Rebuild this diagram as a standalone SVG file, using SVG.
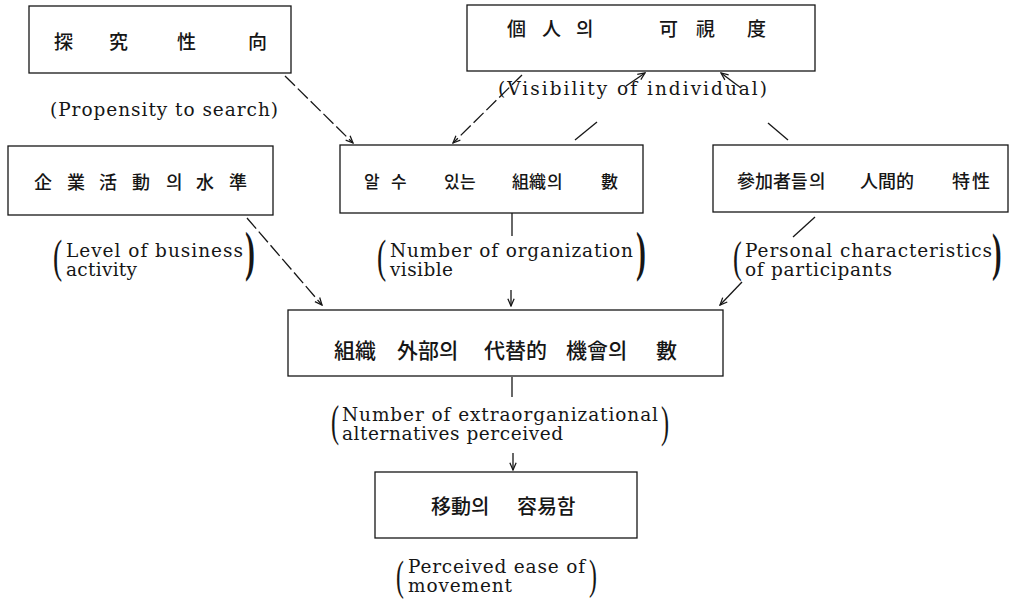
<svg xmlns="http://www.w3.org/2000/svg" width="1011" height="600" viewBox="0 0 1011 600">
<style>
.bg{fill:#ffffff}
.box{fill:none;stroke:#161616;stroke-width:1.3}
.kr{font-family:"Noto Sans CJK KR","Noto Sans CJK SC",sans-serif;font-weight:500;fill:#161616}
.en{font-family:"DejaVu Serif","Liberation Serif",serif;font-size:18.5px;fill:#161616}
.par{font-family:"Liberation Serif",serif;fill:#161616}
.ln{fill:none;stroke:#161616;stroke-width:1.3}
.dash{stroke-dasharray:14 4}
</style>
<defs>
<marker id="ah" viewBox="0 0 10 10" refX="9" refY="5" markerWidth="9" markerHeight="9" orient="auto" markerUnits="userSpaceOnUse">
<path d="M1,1.5 L9,5 L1,8.5" fill="none" stroke="#161616" stroke-width="1.4"/>
</marker>
</defs>
<rect class="bg" x="0" y="0" width="1011" height="600"/>

<g id="connectors">
<path class="ln dash" d="M285,76 L353,143" marker-end="url(#ah)"/>
<path class="ln dash" d="M522,75 L453,143" marker-end="url(#ah)"/>
<path class="ln" d="M575,140 L597,122"/>
<path class="ln" d="M626,86 L645,73" marker-end="url(#ah)"/>
<path class="ln" d="M788,140 L768,123"/>
<path class="ln" d="M741,88 L721,73" marker-end="url(#ah)"/>
<path class="ln dash" d="M247,218 L322,305" marker-end="url(#ah)"/>
<path class="ln" d="M512,213 L512,236"/>
<path class="ln" d="M511,290 L511,306" marker-end="url(#ah)"/>
<path class="ln" d="M815,217 L793,237"/>
<path class="ln" d="M742,282 L720,305" marker-end="url(#ah)"/>
<path class="ln" d="M512,377 L512,397"/>
<path class="ln" d="M513,453 L513,470" marker-end="url(#ah)"/>
</g>

<g id="node-propensity">
<rect class="box" x="29" y="6" width="262" height="67"/>
<text class="kr" font-size="19" x="54 73 109 128 177 196 248" y="49">探 究 性 向</text>
<text class="en" x="50" y="116" textLength="228" lengthAdjust="spacing">(Propensity to search)</text>
</g>

<g id="node-visibility">
<rect class="box" x="467" y="5" width="348" height="66"/>
<text class="kr" font-size="19" x="507 526 542 561 576 595 659 678 696 715 747" y="36">個 人 의 可 視 度</text>
<text class="en" x="498" y="95" textLength="269" lengthAdjust="spacing">(Visibility of individual)</text>
</g>

<g id="node-business">
<rect class="box" x="8" y="146" width="265" height="69"/>
<text class="kr" font-size="18" x="34 52 67 85 99 117 132 150 166 184 196 214 229" y="189">企 業 活 動 의 水 準</text>
<text class="par" font-size="46" transform="translate(53,272) scale(0.6,1)">(</text>
<text class="en" x="66" y="257" textLength="177" lengthAdjust="spacing">Level of business</text>
<text class="en" x="66" y="276" textLength="71" lengthAdjust="spacing">activity</text>
<text class="par" font-size="54" font-weight="bold" transform="translate(245,270) scale(0.55,1)">)</text>
</g>

<g id="node-visible-orgs">
<rect class="box" x="340" y="145" width="303" height="68"/>
<text class="kr" font-size="17" x="364 381 391 408 444 460 476 512 529 547 563 601" y="188">알 수 있는 組織의 數</text>
<text class="par" font-size="46" transform="translate(377,272) scale(0.6,1)">(</text>
<text class="en" x="390" y="257" textLength="243" lengthAdjust="spacing">Number of organization</text>
<text class="en" x="390" y="276" textLength="63" lengthAdjust="spacing">visible</text>
<text class="par" font-size="54" font-weight="bold" transform="translate(636,270) scale(0.55,1)">)</text>
</g>

<g id="node-personal">
<rect class="box" x="713" y="145" width="295" height="67"/>
<text class="kr" font-size="18" x="737 755 773 791 809 827 860 878 896 914 952 972" y="188">參加者들의 人間的 特性</text>
<text class="par" font-size="44" transform="translate(733,272) scale(0.6,1)">(</text>
<text class="en" x="745" y="257" textLength="247" lengthAdjust="spacing">Personal characteristics</text>
<text class="en" x="745" y="276" textLength="147" lengthAdjust="spacing">of participants</text>
<text class="par" font-size="52" font-weight="bold" transform="translate(992,270) scale(0.55,1)">)</text>
</g>

<g id="node-alternatives">
<rect class="box" x="288" y="310" width="435" height="66"/>
<text class="kr" font-size="21" x="334 355 376 397 418 439 460 484 505 526 547 566 587 608 629 656" y="358">組織 外部의 代替的 機會의 數</text>
<text class="par" font-size="44" transform="translate(331,436) scale(0.55,1)">(</text>
<text class="en" x="342" y="421" textLength="316" lengthAdjust="spacing">Number of extraorganizational</text>
<text class="en" x="342" y="440" textLength="221" lengthAdjust="spacing">alternatives perceived</text>
<text class="par" font-size="44" transform="translate(661,437) scale(0.55,1)">)</text>
</g>

<g id="node-ease">
<rect class="box" x="375" y="472" width="262" height="66"/>
<text class="kr" font-size="20" x="431 451 471 491 517 537 557" y="514">移動의 容易함</text>
<text class="par" font-size="43" transform="translate(396,590) scale(0.55,1)">(</text>
<text class="en" x="408" y="573" textLength="177" lengthAdjust="spacing">Perceived ease of</text>
<text class="en" x="408" y="592" textLength="104" lengthAdjust="spacing">movement</text>
<text class="par" font-size="43" transform="translate(589,589) scale(0.55,1)">)</text>
</g>
</svg>
